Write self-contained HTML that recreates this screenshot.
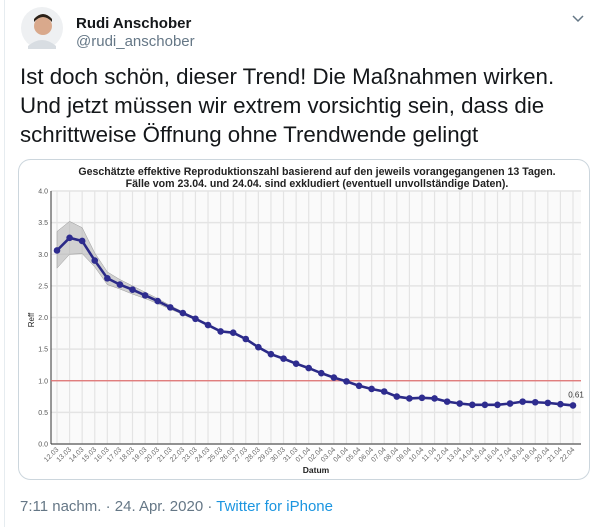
<!DOCTYPE html>
<html><head><meta charset="utf-8"><style>
html,body{margin:0;padding:0;background:#fff;width:604px;height:527px;overflow:hidden;font-family:"Liberation Sans",sans-serif}
</style></head><body>
<svg id="s" width="604" height="527" xmlns="http://www.w3.org/2000/svg">
<line x1="4.5" y1="0" x2="4.5" y2="527" stroke="#e6ecf0"/>
<g>
<circle cx="42" cy="28" r="21" fill="#eef0f2"/>
<circle cx="43" cy="26" r="9" fill="#d9a98c"/>
<path d="M34 22 Q43 12 52 22 L52 19 Q43 9 34 19Z" fill="#2b2118"/>
<path d="M28 46 Q42 34 56 46 L56 49 L28 49Z" fill="#d8dde2"/>
</g>
<text x="76" y="28" font-size="15" font-weight="bold" fill="#14171a">Rudi Anschober</text>
<text x="76" y="46" font-size="15" fill="#657786">@rudi_anschober</text>
<path d="M573 16 L578 21 L583 16" fill="none" stroke="#657786" stroke-width="1.5"/>
<g font-size="22.3" fill="#14171a">
<text x="20" y="84">Ist doch schön, dieser Trend! Die Maßnahmen wirken.</text>
<text x="20" y="113">Und jetzt müssen wir extrem vorsichtig sein, dass die</text>
<text x="20" y="142">schrittweise Öffnung ohne Trendwende gelingt</text>
</g>
<rect x="18.5" y="159.5" width="571" height="320" rx="12" fill="#fff" stroke="#ccd6dd"/>
<g id="chart"></g>
<text x="20" y="511" font-size="15" fill="#657786">7:11 nachm. · 24. Apr. 2020 · <tspan fill="#1b95e0">Twitter for iPhone</tspan></text>
</svg>
<script>
const dates=["12.03","13.03","14.03","15.03","16.03","17.03","18.03","19.03","20.03","21.03","22.03","23.03","24.03","25.03","26.03","27.03","28.03","29.03","30.03","31.03","01.04","02.04","03.04","04.04","05.04","06.04","07.04","08.04","09.04","10.04","11.04","12.04","13.04","14.04","15.04","16.04","17.04","18.04","19.04","20.04","21.04","22.04"];
const rValues=[3.06,3.26,3.21,2.90,2.62,2.52,2.44,2.35,2.26,2.16,2.07,1.98,1.88,1.78,1.76,1.66,1.53,1.42,1.35,1.27,1.20,1.12,1.05,0.99,0.92,0.87,0.83,0.75,0.72,0.73,0.72,0.67,0.64,0.62,0.62,0.62,0.64,0.67,0.66,0.65,0.63,0.61];
const upper=[3.36,3.52,3.42,3.02,2.72,2.60,2.50,2.40,2.30,2.19,2.09,2.00,1.89,1.79,1.77,1.67,1.54,1.43,1.36,1.28,1.21,1.13,1.06,1.00,0.93,0.88,0.84,0.76,0.73,0.74,0.73,0.68,0.65,0.63,0.63,0.63,0.65,0.68,0.67,0.66,0.64,0.62];
const lower=[2.78,3.00,3.01,2.80,2.52,2.45,2.37,2.30,2.22,2.13,2.05,1.96,1.87,1.77,1.75,1.65,1.52,1.41,1.34,1.26,1.19,1.11,1.04,0.98,0.91,0.86,0.82,0.74,0.71,0.72,0.71,0.66,0.63,0.61,0.61,0.61,0.63,0.66,0.65,0.64,0.62,0.60];
const yTicks=[0,0.5,1,1.5,2,2.5,3,3.5,4];
const threshold=1.0;
const NS="http://www.w3.org/2000/svg";
const g=document.getElementById('chart');
const X0=57,X1=573,Y0=444,Y1=191,AXL=51,AXR=581;
const x=i=>X0+(X1-X0)*i/(dates.length-1);
const y=v=>Y0-(Y0-Y1)*v/4;
function mk(t,a){const e=document.createElementNS(NS,t);for(const k in a)e.setAttribute(k,a[k]);g.appendChild(e);return e;}
let e;
e=mk('rect',{x:AXL,y:Y1,width:AXR-AXL,height:Y0-Y1,fill:'#fafafa'});


yTicks.forEach(t=>{
 e=mk('line',{x1:AXL,x2:AXR,y1:y(t),y2:y(t),stroke:'#e4e4e4','stroke-width':1.5});
 
 
 e=mk('text',{x:AXL-3,y:y(t)+2.5,'font-size':7,fill:'#555','text-anchor':'end'});e.textContent=t.toFixed(1);
 
 
});
dates.forEach((d,i)=>{
 e=mk('line',{x1:x(i),x2:x(i),y1:Y1,y2:Y0,stroke:'#e4e4e4','stroke-width':1.2});
 
 
 e=mk('text',{x:x(i)+2,y:Y0+6,'font-size':7,fill:'#666','text-anchor':'end',transform:`rotate(-45 ${x(i)+2} ${Y0+6})`});e.textContent=d;
 
 
});
e=mk('line',{x1:AXL,x2:AXL,y1:Y1,y2:Y0,stroke:'#333','stroke-width':1});


e=mk('line',{x1:AXL,x2:AXR,y1:Y0,y2:Y0,stroke:'#333','stroke-width':1});


let band='M'+dates.map((d,i)=>x(i)+','+y(upper[i])).join(' L')+' L'+dates.map((d,i)=>x(i)+','+y(lower[i])).reverse().join(' L')+'Z';
e=mk('path',{d:band,fill:'#b5b5b5','fill-opacity':0.6,stroke:'#999','stroke-width':0.5});


e=mk('line',{x1:AXL,x2:AXR,y1:y(threshold),y2:y(threshold),stroke:'#e07070','stroke-width':1.3});


e=mk('polyline',{points:rValues.map((v,i)=>x(i)+','+y(v)).join(' '),fill:'none',stroke:'#2b2a87','stroke-width':2.6});


rValues.forEach((v,i)=>{
 e=mk('circle',{cx:x(i),cy:y(v),r:3.3,fill:'#2e2c8f'});
 
 
});
e=mk('text',{x:x(rValues.length-1)+3,y:y(rValues[rValues.length-1])-8,'font-size':8,fill:'#333','text-anchor':'middle'});e.textContent=rValues[rValues.length-1].toFixed(2);


e=mk('text',{x:316,y:473,'font-size':8.5,'font-weight':'bold',fill:'#222','text-anchor':'middle'});e.textContent='Datum';


e=mk('text',{x:34,y:320,'font-size':8,fill:'#222','text-anchor':'middle',transform:'rotate(-90 34 320)'});e.textContent='Reff';


e=mk('text',{x:317,y:175,'font-size':10.6,'font-weight':'bold',fill:'#222','text-anchor':'middle'});e.textContent='Geschätzte effektive Reproduktionszahl basierend auf den jeweils vorangegangenen 13 Tagen.';


e=mk('text',{x:317,y:187,'font-size':10.6,'font-weight':'bold',fill:'#222','text-anchor':'middle'});e.textContent='Fälle vom 23.04. und 24.04. sind exkludiert (eventuell unvollständige Daten).';


</script>
</body></html>
